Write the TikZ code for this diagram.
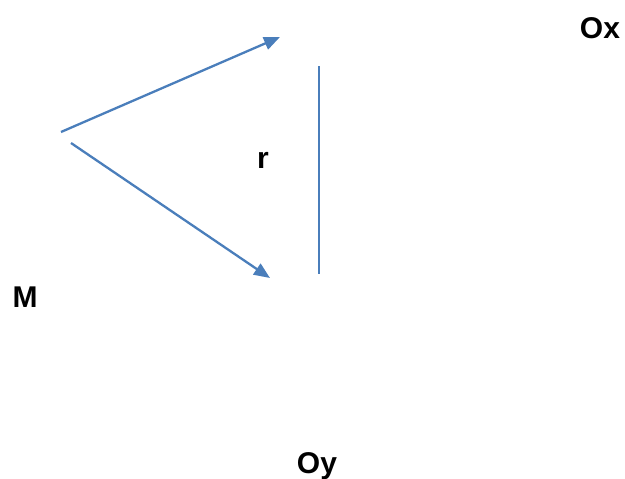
\documentclass[tikz,border=0pt]{standalone}
\usepackage{fontspec}
\setmainfont{Liberation Sans}
\usetikzlibrary{arrows.meta}
\definecolor{lineblue}{HTML}{4A7EBB}
\begin{document}
\begin{tikzpicture}[x=1pt,y=-1pt,
    vect/.style={draw=lineblue,line width=2.3pt,-{Triangle[length=16pt,width=13pt]}},
    bar/.style={draw=lineblue,line width=2.3pt},
    lab/.style={font=\fontsize{30}{34}\selectfont\bfseries,inner sep=0pt} ]
    \useasboundingbox (0,0) rectangle (625,479);
    \node at (600,28) [lab] (Ox) {Ox};
    \node at (25,297) [lab] (M) {M};
    \node at (317,466) [lab] (Oy) {Oy};
    \node at (263,160) [lab] (r) {r};
    \coordinate (a1) at (61,132);
    \coordinate (a2) at (280,37);
    \coordinate (b1) at (71,143);
    \coordinate (b2) at (270,278);
    \coordinate (t) at (319,66);
    \coordinate (u) at (319,274);
    \draw [vect] (a1) to (a2);
    \draw [vect] (b1) to (b2);
    \draw [bar] (t) to (u);
\end{tikzpicture}
\end{document}
